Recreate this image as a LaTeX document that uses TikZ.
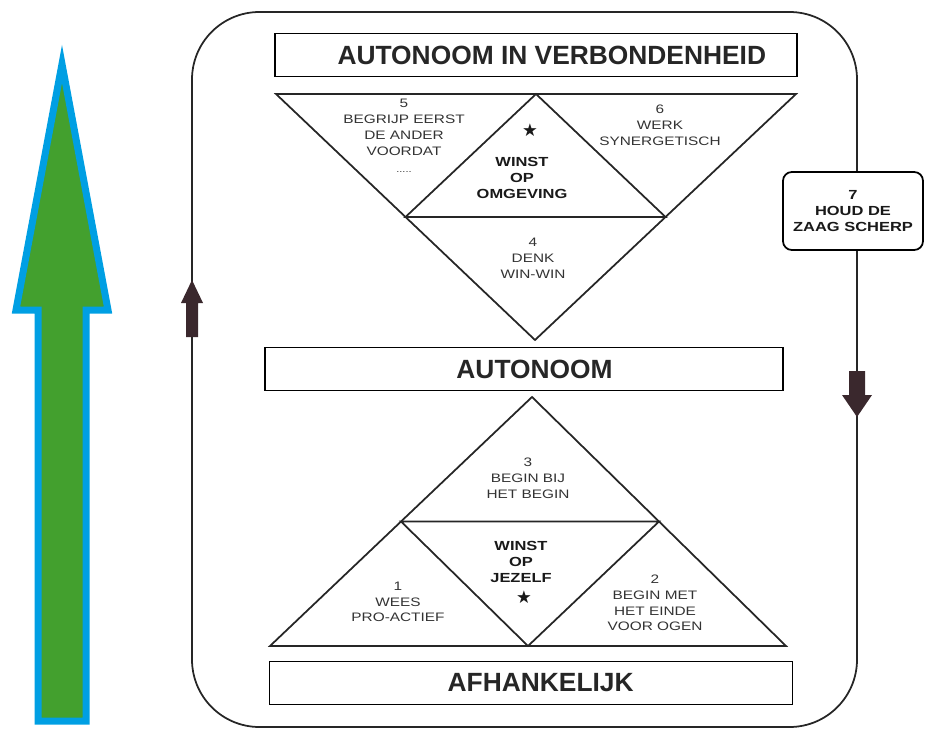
\documentclass[tikz,border=0pt]{standalone}
\usepackage{fontspec}
\usetikzlibrary{calc}
\setmainfont{Liberation Sans}
\newfontfamily\widesans[FakeStretch=1.25]{Liberation Sans}
\newfontfamily\starfont{DejaVu Sans}
\definecolor{arrowdark}{RGB}{58,40,45}
\definecolor{growgreen}{RGB}{67,160,46}
\definecolor{growblue}{RGB}{0,159,227}
\tikzset{
  frameline/.style={line width=1pt,black!85},
  stagebox/.style={draw,line width=1pt,minimum height=0.86cm,
    font=\fontsize{15}{18}\selectfont\bfseries,text=black!85}, % level boxes
  habit/.style={align=center,text=black!80,
    font=\widesans\fontsize{7}{9}\selectfont}, % numbered habits
  gain/.style={align=center,text=black!90,
    font=\widesans\fontsize{7.5}{9}\selectfont\bfseries},
  starmark/.style={font=\starfont\fontsize{10}{10}\selectfont,text=black!90},
  sawbox/.style={draw,fill=white,rounded corners=5pt,line width=1pt,
    minimum width=2.8cm,minimum height=1.56cm,align=center,text=black!90,
    font=\widesans\fontsize{7.5}{9}\selectfont\bfseries},
  cyclearrow/.style={fill=arrowdark},
}

\begin{document}
\begin{tikzpicture}[x=0.02cm,y=-0.02cm]
		\useasboundingbox (0,0) rectangle (925,729);
		\clip (0,0) rectangle (925,729);

		\draw[growblue,fill=growgreen,line width=0.14cm,miter limit=10]
		(62,64) -- (108,310) -- (86,310) -- (86,721) -- (38,721) -- (38,310) -- (16,310) -- cycle;

		\draw[frameline,rounded corners=1.35cm] (192,12) rectangle (857,727);
		\fill[cyclearrow] (192,280) -- (203,303) -- (198,303) -- (198,337) -- (186,337) -- (186,303) -- (181,303) -- cycle;
		\fill[cyclearrow] (857,417) -- (872,395) -- (865,395) -- (865,371) -- (849,371) -- (849,395) -- (842,395) -- cycle;

		\node[stagebox,minimum width=10.44cm] (together) at (536,55) {\hspace*{18pt}AUTONOOM IN VERBONDENHEID};
		\node[stagebox,minimum width=10.36cm] (self) at (524,369) {\hspace*{12pt}AUTONOOM};
		\node[stagebox,minimum width=10.46cm] (depend) at (531,683) {\hspace*{11pt}AFHANKELIJK};

		\coordinate (ia) at (276,94);
		\coordinate (ib) at (796,94);
		\coordinate (ic) at (535,340);
		\coordinate (ua) at (532,397);
		\coordinate (ub) at (270,646);
		\coordinate (uc) at (786,646);
		\draw[frameline] (ia) -- (ib) -- (ic) -- cycle;
		\draw[frameline] ($(ia)!.5!(ib)$) -- ($(ia)!.5!(ic)$) -- ($(ib)!.5!(ic)$) -- cycle;
		\draw[frameline] (ua) -- (ub) -- (uc) -- cycle;
		\draw[frameline] ($(ua)!.5!(ub)$) -- ($(ua)!.5!(uc)$) -- ($(ub)!.5!(uc)$) -- cycle;

		\node[habit] (h5) at (404,136) {5\\BEGRIJP EERST\\DE ANDER\\VOORDAT\\[1pt]{\tiny .....}};
		\node[habit] (h6) at (660,125) {6\\WERK\\SYNERGETISCH};
		\node[habit] (h4) at (533,258) {4\\DENK\\WIN-WIN};
		\node[starmark] (star1) at (530,130) {★};
		\node[gain] (g1) at (522,178) {WINST\\OP\\OMGEVING};

		\node[habit] (h3) at (528,478) {3\\BEGIN BIJ\\HET BEGIN};
		\node[gain] (g2) at (521,562) {WINST\\OP\\JEZELF};
		\node[starmark] (star2) at (524,597) {★};
		\node[habit] (h1) at (398,602) {1\\WEES\\PRO-ACTIEF};
		\node[habit] (h2) at (655,603) {2\\BEGIN MET\\HET EINDE\\VOOR OGEN};

		\node[sawbox] (saw) at (853,211) {7\\HOUD DE\\ZAAG SCHERP};
\end{tikzpicture}
\end{document}
